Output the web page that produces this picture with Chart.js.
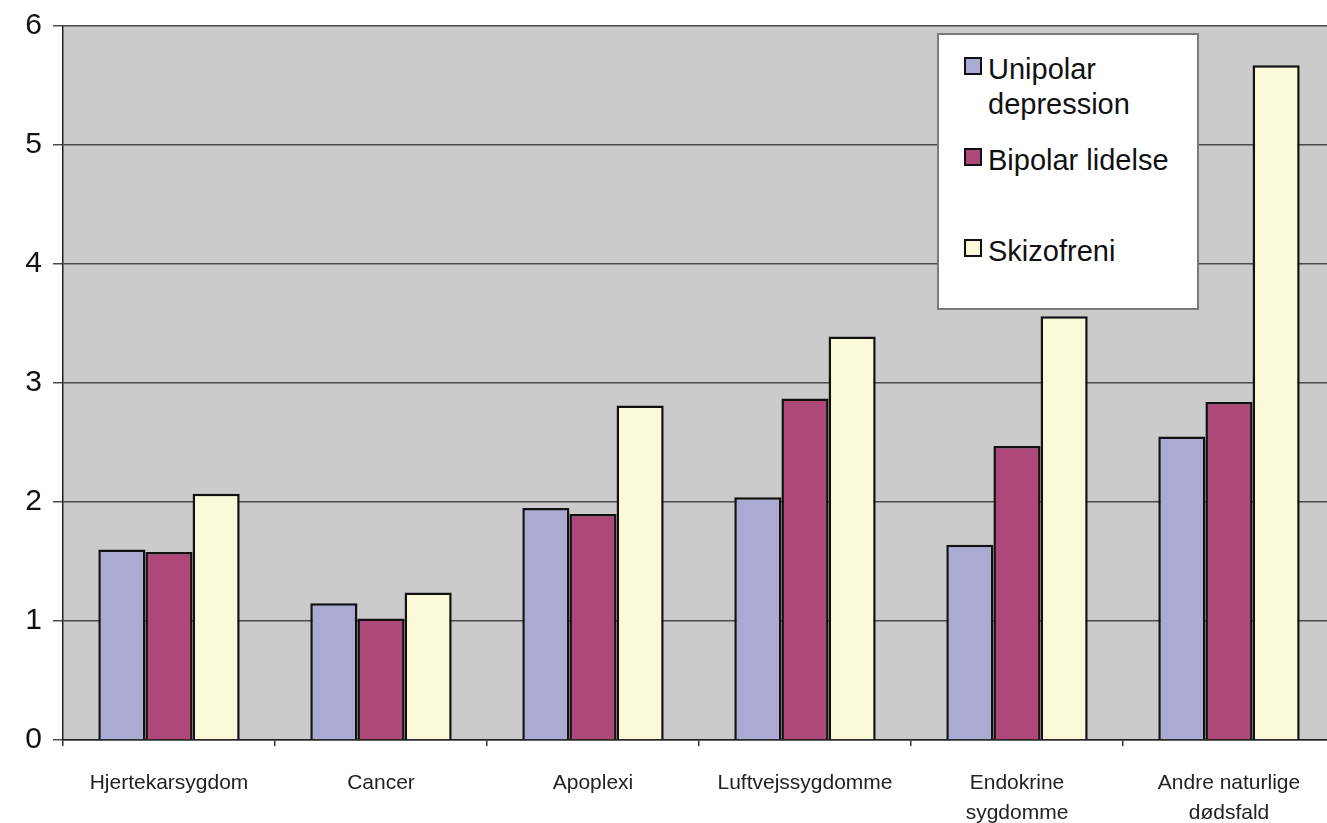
<!DOCTYPE html>
<html>
<head>
<meta charset="utf-8">
<script src="https://cdn.jsdelivr.net/npm/chart.js@4"></script>
<style>
  html, body { margin: 0; padding: 0; background: #ffffff; overflow: hidden; }
  #wrap { position: relative; width: 1335px; height: 823px; }
  #legend {
    position: absolute; left: 937px; top: 33px; width: 258px; height: 273px;
    background: #ffffff; border: 2px solid #7a7a7a;
    font-family: "Liberation Sans", Arial, sans-serif; font-size: 29px; line-height: 35px; color: #111;
  }
  .item { position: absolute; left: 25px; width: 225px; }
  .swatch { position: absolute; left: 0; top: 5px; width: 14px; height: 14px; border: 2px solid #111; }
  .label { position: absolute; left: 24px; width: 200px; }
</style>
</head>
<body>
<div id="wrap">
  <canvas id="chart" width="1335" height="823"></canvas>
  <div id="legend"></div>
</div>
<script>
// Categories (causes of death) and relative risk per diagnosis group
const categories = ['Hjertekarsygdom', 'Cancer', 'Apoplexi', 'Luftvejssygdomme', ['Endokrine', 'sygdomme'], ['Andre naturlige', 'dødsfald']];
const seriesNames = ['Unipolar depression', 'Bipolar lidelse', 'Skizofreni'];
const unipolar = [1.60, 1.15, 1.95, 2.04, 1.64, 2.55];
const bipolar = [1.58, 1.02, 1.90, 2.87, 2.47, 2.84];
const skizofreni = [2.07, 1.24, 2.81, 3.39, 3.56, 5.67];
const yTicks = [0, 1, 2, 3, 4, 5, 6];

const colors = ['#aaaad2', '#ad4878', '#fafad8'];
const values = [unipolar, bipolar, skizofreni];

// grey plot background
const plotBg = {
  id: 'plotBg',
  beforeDraw(chart) {
    const { ctx, chartArea: a } = chart;
    ctx.save();
    ctx.fillStyle = '#cbcbcb';
    ctx.fillRect(a.left, a.top, a.right - a.left, a.bottom - a.top);
    ctx.restore();
  }
};

new Chart(document.getElementById('chart'), {
  type: 'bar',
  data: {
    labels: categories,
    datasets: seriesNames.map((name, i) => ({
      label: name,
      data: values[i],
      backgroundColor: colors[i],
      borderColor: '#111111',
      borderWidth: 2.5,
      barPercentage: 1.0,
      categoryPercentage: 0.667
    }))
  },
  options: {
    responsive: false,
    animation: false,
    layout: { padding: { top: 25, right: 0, left: 0, bottom: 0 } },
    plugins: { legend: { display: false }, tooltip: { enabled: false } },
    scales: {
      x: {
        grid: { drawOnChartArea: false, drawTicks: true, tickLength: 6, color: '#333', lineWidth: 1.5 },
        border: { color: '#222', width: 1.5 },
        ticks: {
          color: '#222', padding: 22, maxRotation: 0, autoSkip: false,
          font: { family: '"Liberation Sans", Arial, sans-serif', size: 21, lineHeight: 1.45 }
        },
        afterFit(scale) { scale.height = 83; }
      },
      y: {
        min: 0, max: 6,
        afterBuildTicks(scale) { scale.ticks = yTicks.map(v => ({ value: v })); },
        grid: { color: '#4a4a4a', lineWidth: 1.5, tickLength: 10 },
        border: { color: '#222', width: 1.5 },
        ticks: {
          color: '#111', padding: 11,
          font: { family: '"Liberation Sans", Arial, sans-serif', size: 30, lineHeight: 1 }
        },
        afterFit(scale) { scale.width = 63; }
      }
    }
  },
  plugins: [plotBg]
});

// legend box, built from the series names and colours
const legend = document.getElementById('legend');
const itemTops = [17, 108, 199];
seriesNames.forEach((name, i) => {
  const item = document.createElement('div');
  item.className = 'item';
  item.style.top = itemTops[i] + 'px';
  const sw = document.createElement('div');
  sw.className = 'swatch';
  sw.style.background = colors[i];
  const lb = document.createElement('div');
  lb.className = 'label';
  lb.textContent = name;
  item.appendChild(sw);
  item.appendChild(lb);
  legend.appendChild(item);
});
</script>
</body>
</html>
